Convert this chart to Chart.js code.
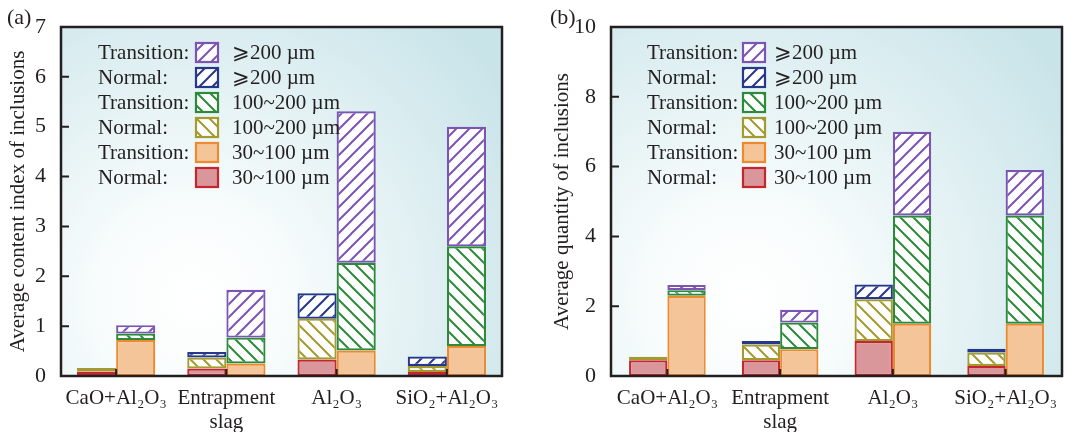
<!DOCTYPE html>
<html>
<head>
<meta charset="utf-8">
<script src="https://cdn.jsdelivr.net/npm/chart.js@4.4.0/dist/chart.umd.min.js"></script>
<style>
  body { margin: 0; background: #fff; }
  #wrap { position: relative; width: 1067px; height: 432px; }
  .panel { position: absolute; top: 0; height: 432px; }
  .tag { position: absolute; top: 4px; font-family: "Liberation Serif", serif; font-size: 22px; color: #231f20; }
</style>
</head>
<body>
<div id="wrap">
  <div class="panel" style="left:0;width:527px"><canvas id="canvas1" width="527" height="432"></canvas></div>
  <div class="panel" style="left:527px;width:540px"><canvas id="canvas2" width="540" height="432"></canvas></div>
  <span class="tag" style="left:7px">(a)</span>
  <span class="tag" style="left:550px">(b)</span>
</div>
<script>
// ---- data -------------------------------------------------------------
var categories = ['CaO+Al₂O₃', ['Entrapment', 'slag'], 'Al₂O₃', 'SiO₂+Al₂O₃'];
var groupNames = ['Normal:', 'Transition:'];
var sizeNames = ['30~100 µm', '100~200 µm', '⩾200 µm'];

// (a) average content index
var contentNormal30  = [0.09, 0.15, 0.33, 0.08];
var contentNormal100 = [0.07, 0.22, 0.82, 0.12];
var contentNormal200 = [0,    0.11, 0.51, 0.19];
var contentTrans30   = [0.72, 0.25, 0.51, 0.60];
var contentTrans100  = [0.13, 0.52, 1.76, 2.00];
var contentTrans200  = [0.17, 0.96, 3.04, 2.40];
var contentTicks = [0, 7, 1];

// (b) average quantity
var qtyNormal30  = [0.45, 0.45, 1.00, 0.29];
var qtyNormal100 = [0.10, 0.45, 1.20, 0.38];
var qtyNormal200 = [0,    0.10, 0.42, 0.11];
var qtyTrans30   = [2.30, 0.77, 1.50, 1.50];
var qtyTrans100  = [0.16, 0.76, 3.10, 3.10];
var qtyTrans200  = [0.15, 0.37, 2.40, 1.30];
var qtyTicks = [0, 10, 2];

// ---- styles -----------------------------------------------------------
var FONT = '"Liberation Serif", "Times New Roman", serif';
var INK = '#231f20';

function hatch(color, dir) {
  var s = 13;
  var c = document.createElement('canvas');
  c.width = s; c.height = s;
  var x = c.getContext('2d');
  x.fillStyle = '#ffffff';
  x.fillRect(0, 0, s, s);
  x.strokeStyle = color;
  x.lineWidth = 2;
  x.beginPath();
  if (dir === '/') {
    x.moveTo(-1, s + 1); x.lineTo(s + 1, -1);
    x.moveTo(-2, 2); x.lineTo(2, -2);
    x.moveTo(s - 2, s + 2); x.lineTo(s + 2, s - 2);
  } else {
    x.moveTo(-1, -1); x.lineTo(s + 1, s + 1);
    x.moveTo(s - 2, -2); x.lineTo(s + 2, 2);
    x.moveTo(-2, s - 2); x.lineTo(2, s + 2);
  }
  x.stroke();
  return x.createPattern(c, 'repeat');
}

var borders = ['#c5262c', '#a39b2f', '#26388b', '#ee8a2e', '#2c8a3a', '#7b54b4'];
var fills = ['#d9969b', hatch('#a39b2f', '\\'), hatch('#26388b', '/'),
             '#f4c599', hatch('#2c8a3a', '\\'), hatch('#7b54b4', '/')];

function makeSets(n30, n100, n200, t30, t100, t200) {
  var values = [n30, n100, n200, t30, t100, t200];
  return values.map(function (v, i) {
    var g = i < 3 ? 0 : 1;
    return {
      label: groupNames[g] + ' ' + sizeNames[i % 3],
      data: v,
      stack: g === 0 ? 'normal' : 'transition',
      backgroundColor: fills[i],
      borderColor: borders[i],
      borderWidth: 2.2,
      borderSkipped: false
    };
  });
}

// background, frame, inward ticks and the legend
var framePlugin = {
  id: 'frame',
  beforeDraw: function (chart) {
    var a = chart.chartArea, ctx = chart.ctx;
    var cx = a.left + a.width * 0.3, cy = a.top + a.height * 0.78;
    var g = ctx.createRadialGradient(cx, cy, 0, cx, cy, a.width * 0.85);
    g.addColorStop(0, '#ffffff');
    g.addColorStop(0.25, '#f8fcfc');
    g.addColorStop(1, '#c9e4e9');
    ctx.save();
    ctx.fillStyle = g;
    ctx.fillRect(a.left, a.top, a.width, a.height);
    ctx.restore();
  },
  afterDraw: function (chart, args, opts) {
    var a = chart.chartArea, ctx = chart.ctx;
    var ys = chart.scales.y, xs = chart.scales.x;
    ctx.save();
    ctx.strokeStyle = INK;
    ctx.lineWidth = 2;
    ctx.beginPath();
    ys.ticks.forEach(function (t, i) {
      var py = ys.getPixelForTick(i);
      ctx.moveTo(a.left, py); ctx.lineTo(a.left + 8, py);
    });
    xs.ticks.forEach(function (t, i) {
      var px = xs.getPixelForTick(i);
      ctx.moveTo(px, a.bottom); ctx.lineTo(px, a.bottom - 7);
    });
    ctx.stroke();
    ctx.lineWidth = 2.5;
    ctx.strokeRect(a.left, a.top, a.width, a.height);

    // legend: top to bottom = last dataset first, alternating groups
    var order = [5, 2, 4, 1, 3, 0];
    ctx.font = '21px ' + FONT;
    ctx.textBaseline = 'middle';
    order.forEach(function (di, row) {
      var ds = chart.data.datasets[di];
      var y = a.top + 25 + row * 25;
      var g = di < 3 ? 0 : 1;
      ctx.fillStyle = INK;
      ctx.fillText(groupNames[g], a.left + opts.lx, y + 1);
      ctx.fillText(sizeNames[di % 3], a.left + opts.sx, y + 1);
      ctx.fillStyle = ds.backgroundColor;
      ctx.fillRect(a.left + opts.bx, y - 10, 24, 21);
      ctx.strokeStyle = ds.borderColor;
      ctx.lineWidth = 2.2;
      ctx.strokeRect(a.left + opts.bx + 1, y - 9, 22, 19);
    });
    ctx.restore();
  }
};

function makeChart(id, sets, ticks, title, o) {
  return new Chart(document.getElementById(id), {
    type: 'bar',
    data: { labels: categories, datasets: sets },
    plugins: [framePlugin],
    options: {
      responsive: false,
      animation: false,
      layout: { padding: { left: o.padLeft, right: o.padRight, top: 27, bottom: 0 } },
      datasets: { bar: { categoryPercentage: o.cat, barPercentage: 1 } },
      plugins: {
        legend: { display: false },
        tooltip: { enabled: false },
        frame: { lx: o.lx, bx: o.bx, sx: o.sx }
      },
      scales: {
        x: {
          stacked: true,
          grid: { display: false },
          border: { display: false },
          ticks: { color: INK, padding: 2, font: { family: FONT, size: 21, lineHeight: 1.15 } },
          afterFit: function (s) { s.height = 56; }
        },
        y: {
          stacked: true,
          min: ticks[0], max: ticks[1],
          grid: { display: false },
          border: { display: false },
          ticks: { stepSize: ticks[2], color: INK, padding: 7, font: { family: FONT, size: 22 } },
          title: { display: true, text: title, color: INK, font: { family: FONT, size: 21 } },
          afterFit: function (s) { s.width = o.axisW; }
        }
      }
    }
  });
}

try {
  makeChart('canvas1',
    makeSets(contentNormal30, contentNormal100, contentNormal200, contentTrans30, contentTrans100, contentTrans200),
    contentTicks, 'Average content index of inclusions',
    { padLeft: 2, padRight: 25, axisW: 59, cat: 0.71, lx: 37, bx: 134, sx: 171 });
  makeChart('canvas2',
    makeSets(qtyNormal30, qtyNormal100, qtyNormal200, qtyTrans30, qtyTrans100, qtyTrans200),
    qtyTicks, 'Average quantity of inclusions',
    { padLeft: 19, padRight: 5, axisW: 65, cat: 0.68, lx: 36, bx: 131, sx: 163 });
} catch (err) {
  console.log(err);
}
</script>
</body>
</html>
